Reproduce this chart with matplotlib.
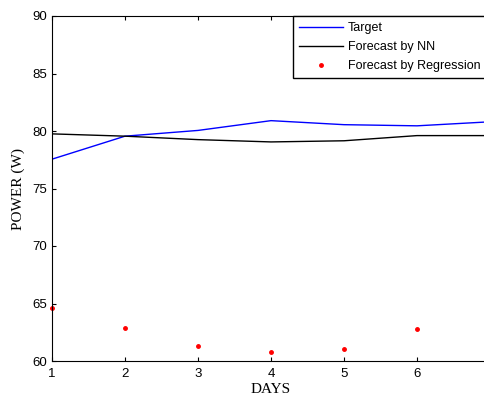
import matplotlib
matplotlib.use("Agg")
import matplotlib.pyplot as plt

days = [1, 2, 3, 4, 5, 6, 7]
target = [77.55, 79.55, 80.05, 80.9, 80.55, 80.45, 80.8]
forecast_nn = [79.75, 79.55, 79.25, 79.05, 79.15, 79.6, 79.6]
reg_days = [1, 2, 3, 4, 5, 6]
forecast_reg = [64.65, 62.9, 61.3, 60.8, 61.05, 62.8]
xtick_vals = [1, 2, 3, 4, 5, 6]
ytick_vals = [60, 65, 70, 75, 80, 85, 90]

fig = plt.figure(figsize=(4.84, 3.96), dpi=100)
# axes runs slightly past the right edge of the image, as in the original
ax = fig.add_axes([52 / 484, 1 - 361 / 396, 438 / 484, 345 / 396])

ax.plot(days, target, color="blue", lw=1.0, label="Target")
ax.plot(days, forecast_nn, color="black", lw=1.0, label="Forecast by NN")
ax.plot(reg_days, forecast_reg, ".", color="red", ms=5, label="Forecast by Regression",
        clip_on=False)

ax.set_xlim(1, 7)
ax.set_ylim(60, 90)
ax.set_xticks(xtick_vals)
ax.set_yticks(ytick_vals)
ax.tick_params(direction="in", top=True, right=True, labelsize=9.5, length=3,
               labelfontfamily="Liberation Sans")
ax.tick_params(axis="x", pad=5)

ax.set_xlabel("DAYS", fontfamily="Liberation Serif", fontsize=11, labelpad=2)
ax.set_ylabel("POWER (W)", fontfamily="Liberation Serif", fontsize=11, labelpad=5)

leg = ax.legend(loc="upper left", bbox_to_anchor=(292.7 / 484, 1 - 16 / 396),
                bbox_transform=fig.transFigure, prop={"family": "Liberation Sans", "size": 9},
                frameon=True, fancybox=False, edgecolor="black", handlelength=3.5,
                borderpad=0.5, labelspacing=0.55, handletextpad=0.4, borderaxespad=0,
                framealpha=1)
leg.get_frame().set_linewidth(1.0)

fig.savefig("out.png", dpi=100)
